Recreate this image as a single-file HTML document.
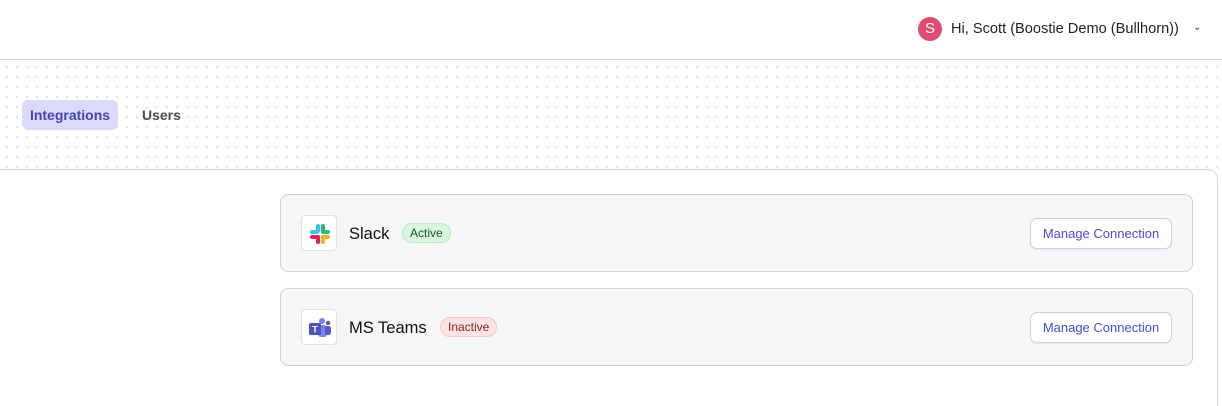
<!DOCTYPE html>
<html><head><meta charset="utf-8"><style>
*{box-sizing:border-box;margin:0;padding:0}
html,body{width:1222px;height:406px;overflow:hidden}
body{background:#fff;font-family:"Liberation Sans",sans-serif;position:relative}
.hdr{position:absolute;left:0;top:0;width:1222px;height:60px;border-bottom:1px solid #d4d5db;background:#fff}
.av{position:absolute;left:918px;top:17px;width:24px;height:24px;border-radius:50%;background:#e04a73;color:#fff;font-size:15px;text-align:center;line-height:24px}
.name{position:absolute;left:951px;top:21px;font-size:14.6px;color:#222}
.chev{position:absolute;left:1193px;top:22px;font-size:10px;color:#333}
.dots{position:absolute;left:0;top:60px;width:1222px;height:109px;background-image:radial-gradient(circle,#dcdce2 0.8px,transparent 1.1px);background-size:10px 10px;background-position:2px 2px}
.tab{position:absolute;top:100px;height:30px;line-height:30px;font-size:14px;font-weight:bold}
.t1{left:22px;width:96px;background:#dadafa;color:#4343b8;border-radius:6px;text-align:center}
.t2{left:142px;color:#4b4d57}
.panel{position:absolute;left:-10px;top:169px;width:1228px;height:250px;border:1px solid #d4d5db;border-radius:0 10px 0 0;background:#fff}
.card{position:absolute;left:280px;width:913px;height:78px;background:#f5f6f8;border:1px solid #d2d3da;border-radius:8px}
.ic{position:absolute;left:20px;top:20px;width:36px;height:36px;background:#fff;border:1px solid #e0e1e6;border-radius:4px}
.ic svg{position:absolute;left:6px;top:6px}
.ttl{position:absolute;left:68px;top:30px;font-size:16.5px;color:#111}
.badge{position:absolute;top:28px;height:20px;line-height:18px;font-size:12px;padding:0 7px;border-radius:10px}
.act{left:121px;background:#d9f5df;border:1px solid #b9ebc6;color:#17582d}
.ina{left:159px;background:#fde3e3;border:1px solid #f7c8c8;color:#8a1f1f}
.btn{position:absolute;left:749px;top:23px;width:142px;height:31px;background:#fff;border:1px solid #cfd0d7;border-radius:7px;color:#4a4ad8;font-size:13px;text-align:center;line-height:29px;box-shadow:0 1px 1px rgba(0,0,0,.05)}
</style></head><body>
<div class="hdr"><div class="av">S</div><div class="name">Hi, Scott (Boostie Demo (Bullhorn))</div><div class="chev">&#8964;</div></div>
<div class="dots"></div>
<div class="tab t1">Integrations</div><div class="tab t2">Users</div>
<div class="panel"></div>
<div class="card" style="top:194px">
 <div class="ic"><svg width="24" height="24" viewBox="0 0 24 24">
  <rect x="8" y="2" width="4" height="9" rx="2" fill="#36c5f0"/><rect x="2" y="8" width="9" height="4" rx="2" fill="#36c5f0"/>
  <rect x="13" y="2" width="4" height="9" rx="2" fill="#2eb67d"/><rect x="13" y="8" width="9" height="4" rx="2" fill="#2eb67d"/>
  <rect x="2" y="13" width="9" height="4" rx="2" fill="#e01e5a"/><rect x="8" y="13" width="4" height="9" rx="2" fill="#e01e5a"/>
  <rect x="13" y="13" width="9" height="4" rx="2" fill="#ecb22e"/><rect x="13" y="13" width="4" height="9" rx="2" fill="#ecb22e"/>
 </svg></div>
 <div class="ttl">Slack</div><div class="badge act">Active</div>
 <div class="btn">Manage Connection</div>
</div>
<div class="card" style="top:288px">
 <div class="ic"><svg width="24" height="24" viewBox="0 0 24 24">
  <circle cx="14" cy="5" r="3" fill="#7b83eb"/><circle cx="20" cy="7" r="2.2" fill="#5059c9"/>
  <rect x="10" y="9" width="9" height="12" rx="3" fill="#7b83eb"/><rect x="17" y="10" width="6" height="9" rx="2.5" fill="#5059c9"/>
  <rect x="1" y="7" width="12" height="12" rx="1.5" fill="#4b53bc"/>
  <text x="7" y="16.5" font-size="9" font-family="Liberation Sans" fill="#fff" text-anchor="middle" font-weight="bold">T</text>
 </svg></div>
 <div class="ttl">MS Teams</div><div class="badge ina">Inactive</div>
 <div class="btn">Manage Connection</div>
</div>
</body></html>
